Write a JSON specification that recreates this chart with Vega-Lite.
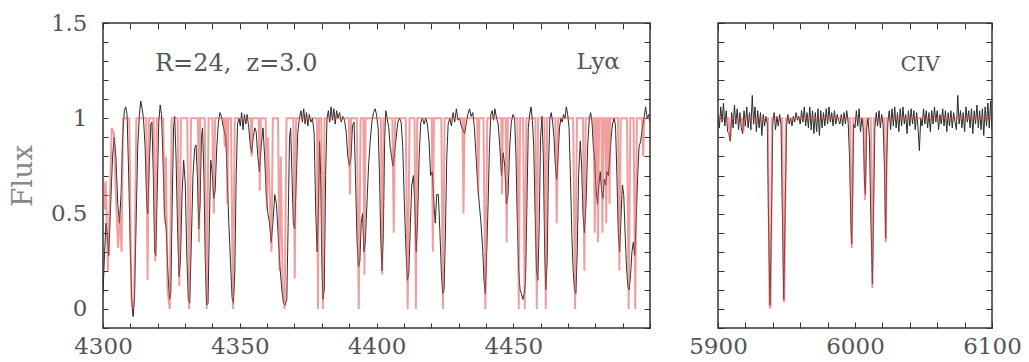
{
"$schema": "https://vega.github.io/schema/vega-lite/v6.json",
"autosize": {"type": "none"},
"padding": {"left": 103, "top": 23, "right": 926, "bottom": 339},
"bounds": "flush",
"spacing": 68,
"background": "white",
"config": {
  "view": {"stroke": "#333", "strokeWidth": 1.5},
  "axis": {"domain": false, "grid": false, "ticks": true, "tickColor": "#333", "tickWidth": 1, "tickSize": -5, "format": "d",
           "labelFont": "DejaVu Serif", "labelFontSize": 23, "labelColor": "#555", "labelOverlap": false, "labelFlush": false,
           "titleFont": "DejaVu Serif", "titleFontSize": 28, "titleColor": "#888", "titleFontWeight": "normal"}
},
"datasets": {
"lyaData": [
{"w":4300.0,"f":0.08},{"w":4300.6,"f":0.30},{"w":4301.1,"f":0.45},{"w":4301.6,"f":0.38},{"w":4302.1,"f":0.28},{"w":4302.8,"f":0.55},{"w":4303.5,"f":0.80},{"w":4304.1,"f":0.90},{"w":4304.7,"f":0.80},{"w":4305.4,"f":0.55},{"w":4306.0,"f":0.45},{"w":4306.6,"f":0.60},{"w":4307.2,"f":0.90},{"w":4307.8,"f":1.04},{"w":4308.3,"f":1.06},{"w":4308.8,"f":1.02},{"w":4309.4,"f":0.70},{"w":4310.0,"f":0.30},{"w":4310.6,"f":0.02},{"w":4311.0,"f":-0.04},{"w":4311.5,"f":0.05},{"w":4312.1,"f":0.45},{"w":4312.7,"f":0.85},{"w":4313.3,"f":1.02},{"w":4313.8,"f":1.09},{"w":4314.3,"f":1.05},{"w":4314.8,"f":1.00},{"w":4315.4,"f":0.85},{"w":4316.0,"f":0.55},{"w":4316.4,"f":0.50},{"w":4316.9,"f":0.75},{"w":4317.5,"f":0.97},{"w":4317.9,"f":0.98},{"w":4318.4,"f":0.70},{"w":4318.9,"f":0.30},{"w":4319.3,"f":0.28},{"w":4319.8,"f":0.60},{"w":4320.4,"f":0.98},{"w":4320.9,"f":1.07},{"w":4321.4,"f":1.02},{"w":4321.9,"f":0.80},{"w":4322.5,"f":0.50},{"w":4323.1,"f":0.42},{"w":4323.7,"f":0.20},{"w":4324.3,"f":0.05},{"w":4324.8,"f":0.08},{"w":4325.3,"f":0.55},{"w":4325.8,"f":0.95},{"w":4326.2,"f":1.01},{"w":4326.7,"f":0.80},{"w":4327.3,"f":0.40},{"w":4327.8,"f":0.17},{"w":4328.3,"f":0.25},{"w":4328.9,"f":0.60},{"w":4329.5,"f":0.78},{"w":4330.1,"f":0.65},{"w":4330.6,"f":0.30},{"w":4331.2,"f":0.05},{"w":4331.7,"f":0.03},{"w":4332.3,"f":0.35},{"w":4332.9,"f":0.70},{"w":4333.5,"f":0.84},{"w":4334.0,"f":0.86},{"w":4334.5,"f":0.70},{"w":4335.0,"f":0.42},{"w":4335.5,"f":0.55},{"w":4336.0,"f":0.90},{"w":4336.4,"f":0.95},{"w":4336.9,"f":0.70},{"w":4337.4,"f":0.25},{"w":4337.9,"f":0.02},{"w":4338.4,"f":0.03},{"w":4338.9,"f":0.45},{"w":4339.4,"f":0.78},{"w":4339.9,"f":0.72},{"w":4340.5,"f":0.58},{"w":4341.0,"f":0.62},{"w":4341.6,"f":0.85},{"w":4342.2,"f":0.98},{"w":4342.8,"f":1.03},{"w":4343.3,"f":1.01},{"w":4343.8,"f":0.97},{"w":4344.4,"f":0.93},{"w":4344.9,"f":0.90},{"w":4345.4,"f":0.70},{"w":4346.0,"f":0.45},{"w":4346.6,"f":0.25},{"w":4347.2,"f":0.06},{"w":4347.7,"f":0.03},{"w":4348.2,"f":0.20},{"w":4348.7,"f":0.70},{"w":4349.2,"f":0.97},{"w":4349.7,"f":1.00},{"w":4350.2,"f":0.96},{"w":4350.7,"f":1.03},{"w":4351.2,"f":0.94},{"w":4351.7,"f":1.02},{"w":4352.2,"f":0.97},{"w":4352.7,"f":1.02},{"w":4353.3,"f":0.95},{"w":4353.9,"f":0.85},{"w":4354.4,"f":0.82},{"w":4354.9,"f":0.90},{"w":4355.5,"f":0.95},{"w":4356.0,"f":0.93},{"w":4356.6,"f":0.80},{"w":4357.2,"f":0.72},{"w":4357.8,"f":0.85},{"w":4358.5,"f":0.95},{"w":4359.1,"f":0.80},{"w":4359.7,"f":0.60},{"w":4360.3,"f":0.50},{"w":4360.9,"f":0.45},{"w":4361.5,"f":0.35},{"w":4362.1,"f":0.45},{"w":4362.8,"f":0.60},{"w":4363.4,"f":0.55},{"w":4364.0,"f":0.40},{"w":4364.7,"f":0.22},{"w":4365.4,"f":0.10},{"w":4366.0,"f":0.03},{"w":4366.6,"f":0.02},{"w":4367.2,"f":0.05},{"w":4367.7,"f":0.45},{"w":4368.2,"f":0.90},{"w":4368.6,"f":0.95},{"w":4369.1,"f":0.70},{"w":4369.6,"f":0.45},{"w":4370.1,"f":0.42},{"w":4370.6,"f":0.65},{"w":4371.2,"f":0.92},{"w":4371.8,"f":1.00},{"w":4372.4,"f":1.04},{"w":4372.9,"f":0.98},{"w":4373.4,"f":1.05},{"w":4373.9,"f":0.97},{"w":4374.4,"f":1.03},{"w":4374.9,"f":0.96},{"w":4375.4,"f":1.02},{"w":4376.0,"f":0.98},{"w":4376.6,"f":1.00},{"w":4377.2,"f":0.92},{"w":4377.8,"f":0.50},{"w":4378.3,"f":0.30},{"w":4378.8,"f":0.55},{"w":4379.2,"f":0.88},{"w":4379.6,"f":0.70},{"w":4380.0,"f":0.25},{"w":4380.4,"f":0.05},{"w":4380.9,"f":0.10},{"w":4381.4,"f":0.70},{"w":4381.9,"f":1.00},{"w":4382.4,"f":1.04},{"w":4382.9,"f":0.98},{"w":4383.4,"f":1.06},{"w":4383.9,"f":0.99},{"w":4384.4,"f":1.05},{"w":4384.9,"f":0.97},{"w":4385.4,"f":1.04},{"w":4385.9,"f":1.00},{"w":4386.5,"f":1.03},{"w":4387.1,"f":0.98},{"w":4387.7,"f":1.01},{"w":4388.3,"f":0.99},{"w":4388.9,"f":0.93},{"w":4389.5,"f":0.80},{"w":4390.1,"f":0.75},{"w":4390.7,"f":0.80},{"w":4391.2,"f":0.96},{"w":4391.8,"f":0.98},{"w":4392.3,"f":0.70},{"w":4392.9,"f":0.35},{"w":4393.4,"f":0.22},{"w":4393.9,"f":0.25},{"w":4394.4,"f":0.45},{"w":4394.9,"f":0.50},{"w":4395.4,"f":0.30},{"w":4395.9,"f":0.35},{"w":4396.5,"f":0.55},{"w":4397.1,"f":0.75},{"w":4397.7,"f":0.88},{"w":4398.3,"f":0.98},{"w":4398.9,"f":1.03},{"w":4399.5,"f":1.05},{"w":4400.0,"f":1.02},{"w":4400.6,"f":0.95},{"w":4401.1,"f":0.70},{"w":4401.6,"f":0.35},{"w":4402.0,"f":0.20},{"w":4402.5,"f":0.40},{"w":4403.0,"f":0.90},{"w":4403.4,"f":1.04},{"w":4403.9,"f":1.00},{"w":4404.5,"f":0.95},{"w":4405.0,"f":0.85},{"w":4405.5,"f":0.80},{"w":4406.0,"f":0.75},{"w":4406.6,"f":0.82},{"w":4407.2,"f":0.90},{"w":4407.8,"f":0.98},{"w":4408.4,"f":1.00},{"w":4409.0,"f":0.98},{"w":4409.6,"f":0.85},{"w":4410.2,"f":0.55},{"w":4410.8,"f":0.30},{"w":4411.3,"f":0.15},{"w":4411.8,"f":0.18},{"w":4412.4,"f":0.45},{"w":4412.9,"f":0.65},{"w":4413.5,"f":0.70},{"w":4414.0,"f":0.55},{"w":4414.5,"f":0.30},{"w":4415.0,"f":0.45},{"w":4415.6,"f":0.80},{"w":4416.2,"f":0.98},{"w":4416.8,"f":1.00},{"w":4417.4,"f":0.97},{"w":4418.0,"f":1.00},{"w":4418.6,"f":0.97},{"w":4419.2,"f":0.88},{"w":4419.8,"f":0.70},{"w":4420.4,"f":0.72},{"w":4421.0,"f":0.55},{"w":4421.5,"f":0.45},{"w":4422.0,"f":0.60},{"w":4422.6,"f":0.60},{"w":4423.2,"f":0.40},{"w":4423.7,"f":0.20},{"w":4424.2,"f":0.08},{"w":4424.7,"f":0.10},{"w":4425.2,"f":0.40},{"w":4425.7,"f":0.80},{"w":4426.2,"f":0.97},{"w":4426.8,"f":1.00},{"w":4427.4,"f":0.96},{"w":4428.0,"f":1.03},{"w":4428.6,"f":0.98},{"w":4429.2,"f":1.05},{"w":4429.8,"f":0.99},{"w":4430.4,"f":1.00},{"w":4431.0,"f":0.96},{"w":4431.6,"f":0.94},{"w":4432.2,"f":0.92},{"w":4432.8,"f":0.97},{"w":4433.4,"f":1.02},{"w":4434.0,"f":1.05},{"w":4434.6,"f":1.01},{"w":4435.2,"f":1.03},{"w":4435.8,"f":0.95},{"w":4436.4,"f":0.80},{"w":4437.0,"f":0.65},{"w":4437.6,"f":0.55},{"w":4438.2,"f":0.45},{"w":4438.8,"f":0.32},{"w":4439.3,"f":0.15},{"w":4439.8,"f":0.08},{"w":4440.3,"f":0.30},{"w":4440.8,"f":0.55},{"w":4441.3,"f":0.85},{"w":4441.8,"f":1.02},{"w":4442.3,"f":1.04},{"w":4442.8,"f":0.99},{"w":4443.3,"f":1.05},{"w":4443.9,"f":1.00},{"w":4444.5,"f":0.97},{"w":4445.1,"f":0.85},{"w":4445.7,"f":0.70},{"w":4446.3,"f":0.82},{"w":4446.9,"f":0.75},{"w":4447.5,"f":0.55},{"w":4448.1,"f":0.60},{"w":4448.7,"f":0.85},{"w":4449.3,"f":0.98},{"w":4449.9,"f":1.02},{"w":4450.5,"f":1.00},{"w":4451.0,"f":0.80},{"w":4451.5,"f":0.45},{"w":4452.0,"f":0.20},{"w":4452.5,"f":0.10},{"w":4453.0,"f":0.08},{"w":4453.5,"f":0.05},{"w":4454.0,"f":0.08},{"w":4454.5,"f":0.15},{"w":4455.0,"f":0.55},{"w":4455.5,"f":0.95},{"w":4456.0,"f":1.02},{"w":4456.5,"f":1.06},{"w":4457.0,"f":0.99},{"w":4457.5,"f":0.85},{"w":4458.0,"f":0.50},{"w":4458.5,"f":0.20},{"w":4459.0,"f":0.15},{"w":4459.5,"f":0.45},{"w":4460.0,"f":0.90},{"w":4460.5,"f":1.01},{"w":4461.0,"f":0.80},{"w":4461.5,"f":0.30},{"w":4461.9,"f":0.10},{"w":4462.4,"f":0.25},{"w":4462.9,"f":0.75},{"w":4463.4,"f":1.00},{"w":4463.9,"f":1.03},{"w":4464.4,"f":0.98},{"w":4464.9,"f":0.90},{"w":4465.4,"f":0.75},{"w":4465.9,"f":0.68},{"w":4466.4,"f":0.80},{"w":4466.9,"f":0.95},{"w":4467.4,"f":1.00},{"w":4467.9,"f":0.98},{"w":4468.4,"f":1.02},{"w":4468.9,"f":1.00},{"w":4469.4,"f":1.06},{"w":4469.9,"f":1.02},{"w":4470.4,"f":0.95},{"w":4470.9,"f":0.70},{"w":4471.4,"f":0.40},{"w":4471.9,"f":0.20},{"w":4472.4,"f":0.10},{"w":4472.9,"f":0.08},{"w":4473.4,"f":0.30},{"w":4473.9,"f":0.70},{"w":4474.5,"f":0.88},{"w":4475.0,"f":0.75},{"w":4475.5,"f":0.50},{"w":4476.0,"f":0.40},{"w":4476.6,"f":0.55},{"w":4477.2,"f":0.85},{"w":4477.8,"f":1.00},{"w":4478.3,"f":1.03},{"w":4478.8,"f":0.98},{"w":4479.3,"f":0.85},{"w":4479.8,"f":0.78},{"w":4480.3,"f":0.62},{"w":4480.8,"f":0.55},{"w":4481.3,"f":0.65},{"w":4481.8,"f":0.72},{"w":4482.3,"f":0.62},{"w":4482.8,"f":0.58},{"w":4483.3,"f":0.68},{"w":4483.8,"f":0.65},{"w":4484.3,"f":0.72},{"w":4484.8,"f":0.70},{"w":4485.3,"f":0.80},{"w":4485.8,"f":0.90},{"w":4486.3,"f":0.97},{"w":4486.9,"f":1.00},{"w":4487.4,"f":0.96},{"w":4487.9,"f":0.70},{"w":4488.4,"f":0.40},{"w":4488.9,"f":0.30},{"w":4489.4,"f":0.48},{"w":4489.9,"f":0.65},{"w":4490.4,"f":0.60},{"w":4490.9,"f":0.40},{"w":4491.4,"f":0.22},{"w":4491.9,"f":0.12},{"w":4492.4,"f":0.10},{"w":4492.9,"f":0.18},{"w":4493.4,"f":0.30},{"w":4493.9,"f":0.35},{"w":4494.4,"f":0.28},{"w":4494.9,"f":0.45},{"w":4495.5,"f":0.70},{"w":4496.0,"f":0.85},{"w":4496.6,"f":0.88},{"w":4497.2,"f":0.95},{"w":4497.8,"f":1.00},{"w":4498.4,"f":1.06},{"w":4499.0,"f":1.00},{"w":4499.5,"f":1.02},{"w":4500.0,"f":0.98}
],
"lyaModel": [
{"w":4300.0,"f":0.70},{"w":4300.5,"f":0.52},{"w":4301.0,"f":0.67},{"w":4301.8,"f":0.20},{"w":4302.6,"f":0.62},{"w":4303.2,"f":0.95},{"w":4304.0,"f":0.92},{"w":4304.7,"f":0.60},{"w":4305.5,"f":0.32},{"w":4306.2,"f":0.50},{"w":4306.8,"f":0.30},{"w":4307.3,"f":1.00},{"w":4309.6,"f":1.00},{"w":4310.4,"f":0.05},{"w":4310.9,"f":0.00},{"w":4311.4,"f":0.05},{"w":4312.2,"f":1.00},{"w":4315.8,"f":1.00},{"w":4316.3,"f":0.15},{"w":4316.8,"f":1.00},{"w":4318.5,"f":1.00},{"w":4319.1,"f":0.25},{"w":4319.7,"f":1.00},{"w":4322.0,"f":1.00},{"w":4322.6,"f":0.45},{"w":4323.0,"f":0.80},{"w":4323.6,"f":0.10},{"w":4324.4,"f":0.00},{"w":4325.1,"f":1.00},{"w":4327.3,"f":1.00},{"w":4327.9,"f":0.12},{"w":4328.5,"f":1.00},{"w":4330.8,"f":1.00},{"w":4331.5,"f":0.00},{"w":4332.2,"f":1.00},{"w":4334.7,"f":1.00},{"w":4335.1,"f":0.35},{"w":4335.5,"f":1.00},{"w":4337.2,"f":1.00},{"w":4337.9,"f":0.00},{"w":4338.6,"f":1.00},{"w":4340.0,"f":1.00},{"w":4340.5,"f":0.50},{"w":4341.0,"f":1.00},{"w":4344.2,"f":1.00},{"w":4344.5,"f":0.85},{"w":4344.8,"f":1.00},{"w":4345.2,"f":1.00},{"w":4345.5,"f":0.55},{"w":4345.8,"f":1.00},{"w":4346.8,"f":1.00},{"w":4347.5,"f":0.00},{"w":4348.2,"f":1.00},{"w":4354.0,"f":1.00},{"w":4354.3,"f":0.80},{"w":4354.6,"f":1.00},{"w":4356.9,"f":1.00},{"w":4357.3,"f":0.62},{"w":4357.7,"f":1.00},{"w":4359.5,"f":1.00},{"w":4359.9,"f":0.52},{"w":4360.3,"f":0.90},{"w":4361.6,"f":0.30},{"w":4362.1,"f":1.00},{"w":4364.0,"f":1.00},{"w":4364.5,"f":0.20},{"w":4365.0,"f":0.80},{"w":4365.7,"f":0.10},{"w":4366.4,"f":0.00},{"w":4367.1,"f":1.00},{"w":4369.6,"f":1.00},{"w":4370.1,"f":0.16},{"w":4370.6,"f":1.00},{"w":4378.2,"f":1.00},{"w":4378.6,"f":0.00},{"w":4379.0,"f":1.00},{"w":4379.8,"f":1.00},{"w":4380.4,"f":0.00},{"w":4381.0,"f":1.00},{"w":4389.9,"f":1.00},{"w":4390.3,"f":0.60},{"w":4390.7,"f":1.00},{"w":4392.8,"f":1.00},{"w":4393.5,"f":0.00},{"w":4394.2,"f":1.00},{"w":4395.2,"f":1.00},{"w":4395.6,"f":0.18},{"w":4396.0,"f":1.00},{"w":4401.6,"f":1.00},{"w":4402.1,"f":0.18},{"w":4402.6,"f":1.00},{"w":4405.8,"f":1.00},{"w":4406.3,"f":0.40},{"w":4406.8,"f":1.00},{"w":4410.7,"f":1.00},{"w":4411.4,"f":0.00},{"w":4412.1,"f":1.00},{"w":4413.9,"f":1.00},{"w":4414.4,"f":0.00},{"w":4414.9,"f":1.00},{"w":4420.2,"f":1.00},{"w":4420.6,"f":0.30},{"w":4421.0,"f":1.00},{"w":4423.7,"f":1.00},{"w":4424.3,"f":0.00},{"w":4424.9,"f":1.00},{"w":4431.4,"f":1.00},{"w":4431.8,"f":0.50},{"w":4432.2,"f":1.00},{"w":4436.8,"f":1.00},{"w":4437.2,"f":0.60},{"w":4437.6,"f":1.00},{"w":4439.1,"f":1.00},{"w":4439.8,"f":0.00},{"w":4440.5,"f":1.00},{"w":4445.6,"f":1.00},{"w":4445.9,"f":0.60},{"w":4446.2,"f":1.00},{"w":4447.2,"f":1.00},{"w":4447.6,"f":0.35},{"w":4448.0,"f":1.00},{"w":4451.5,"f":1.00},{"w":4452.0,"f":0.00},{"w":4452.5,"f":1.00},{"w":4453.6,"f":1.00},{"w":4454.2,"f":0.00},{"w":4454.8,"f":1.00},{"w":4458.1,"f":1.00},{"w":4458.6,"f":0.00},{"w":4459.1,"f":1.00},{"w":4461.4,"f":1.00},{"w":4461.9,"f":0.00},{"w":4462.4,"f":1.00},{"w":4465.4,"f":1.00},{"w":4465.9,"f":0.45},{"w":4466.4,"f":1.00},{"w":4471.9,"f":1.00},{"w":4472.6,"f":0.00},{"w":4473.3,"f":1.00},{"w":4475.5,"f":1.00},{"w":4476.0,"f":0.20},{"w":4476.5,"f":1.00},{"w":4479.4,"f":1.00},{"w":4479.8,"f":0.40},{"w":4480.2,"f":1.00},{"w":4480.6,"f":1.00},{"w":4481.0,"f":0.35},{"w":4481.4,"f":1.00},{"w":4482.2,"f":1.00},{"w":4482.6,"f":0.40},{"w":4483.0,"f":1.00},{"w":4483.6,"f":1.00},{"w":4484.0,"f":0.45},{"w":4484.4,"f":1.00},{"w":4484.9,"f":1.00},{"w":4485.2,"f":0.55},{"w":4485.5,"f":1.00},{"w":4488.3,"f":1.00},{"w":4488.8,"f":0.20},{"w":4489.3,"f":1.00},{"w":4491.6,"f":1.00},{"w":4492.2,"f":0.00},{"w":4492.8,"f":1.00},{"w":4494.0,"f":1.00},{"w":4494.6,"f":0.00},{"w":4495.2,"f":1.00},{"w":4497.1,"f":1.00},{"w":4497.5,"f":0.80},{"w":4497.9,"f":1.00},{"w":4500.0,"f":1.00}
],
"civData": [
{"w":5900,"f":1.02},{"w":5901,"f":0.95},{"w":5902,"f":1.06},{"w":5903,"f":0.98},{"w":5904,"f":1.08},{"w":5905,"f":0.96},{"w":5906,"f":1.04},{"w":5907,"f":0.93},{"w":5908,"f":0.92},{"w":5909,"f":0.88},{"w":5910,"f":1.03},{"w":5911,"f":0.95},{"w":5912,"f":1.07},{"w":5913,"f":0.97},{"w":5914,"f":1.05},{"w":5915,"f":0.94},{"w":5916,"f":1.03},{"w":5917,"f":0.95},{"w":5918,"f":0.92},{"w":5919,"f":1.04},{"w":5920,"f":0.96},{"w":5921,"f":1.06},{"w":5922,"f":0.95},{"w":5923,"f":1.03},{"w":5924,"f":0.94},{"w":5925,"f":1.12},{"w":5926,"f":0.97},{"w":5927,"f":1.06},{"w":5928,"f":0.93},{"w":5929,"f":1.04},{"w":5930,"f":0.95},{"w":5931,"f":1.03},{"w":5932,"f":0.91},{"w":5933,"f":1.02},{"w":5934,"f":0.96},{"w":5935,"f":1.01},{"w":5936,"f":0.97},{"w":5937,"f":0.40},{"w":5938,"f":0.02},{"w":5939,"f":0.45},{"w":5940,"f":0.98},{"w":5941,"f":1.03},{"w":5942,"f":0.94},{"w":5943,"f":1.01},{"w":5944,"f":0.96},{"w":5945,"f":1.02},{"w":5946,"f":0.97},{"w":5947,"f":0.50},{"w":5948,"f":0.05},{"w":5949,"f":0.50},{"w":5950,"f":0.96},{"w":5951,"f":1.02},{"w":5952,"f":0.97},{"w":5953,"f":1.00},{"w":5954,"f":0.96},{"w":5955,"f":1.01},{"w":5956,"f":0.98},{"w":5957,"f":1.03},{"w":5958,"f":0.99},{"w":5959,"f":1.01},{"w":5960,"f":0.97},{"w":5961,"f":1.04},{"w":5962,"f":0.98},{"w":5963,"f":1.06},{"w":5964,"f":0.96},{"w":5965,"f":1.03},{"w":5966,"f":0.95},{"w":5967,"f":1.06},{"w":5968,"f":0.94},{"w":5969,"f":1.04},{"w":5970,"f":0.92},{"w":5971,"f":1.03},{"w":5972,"f":0.93},{"w":5973,"f":1.05},{"w":5974,"f":0.91},{"w":5975,"f":1.04},{"w":5976,"f":0.95},{"w":5977,"f":1.03},{"w":5978,"f":0.96},{"w":5979,"f":1.05},{"w":5980,"f":0.97},{"w":5981,"f":1.06},{"w":5982,"f":0.98},{"w":5983,"f":1.03},{"w":5984,"f":0.96},{"w":5985,"f":1.04},{"w":5986,"f":0.97},{"w":5987,"f":1.02},{"w":5988,"f":0.99},{"w":5989,"f":0.97},{"w":5990,"f":1.02},{"w":5991,"f":0.96},{"w":5992,"f":1.03},{"w":5993,"f":0.97},{"w":5994,"f":1.04},{"w":5995,"f":0.98},{"w":5996,"f":0.80},{"w":5997,"f":0.45},{"w":5997.6,"f":0.34},{"w":5998.3,"f":0.60},{"w":5999,"f":0.97},{"w":6000,"f":0.95},{"w":6001,"f":1.04},{"w":6002,"f":0.96},{"w":6003,"f":1.05},{"w":6004,"f":0.93},{"w":6005,"f":1.00},{"w":6006,"f":0.95},{"w":6007,"f":0.65},{"w":6007.6,"f":0.60},{"w":6008.5,"f":0.95},{"w":6009.5,"f":1.00},{"w":6010.5,"f":0.90},{"w":6011.5,"f":0.50},{"w":6012.7,"f":0.13},{"w":6013.6,"f":0.55},{"w":6014.5,"f":0.95},{"w":6015.5,"f":1.03},{"w":6016.5,"f":0.96},{"w":6017.5,"f":1.04},{"w":6018.5,"f":0.95},{"w":6019.5,"f":1.02},{"w":6020.5,"f":0.97},{"w":6021.5,"f":0.75},{"w":6022.4,"f":0.37},{"w":6023.2,"f":0.80},{"w":6024,"f":0.98},{"w":6025,"f":1.04},{"w":6026,"f":0.94},{"w":6027,"f":1.05},{"w":6028,"f":0.96},{"w":6029,"f":1.06},{"w":6030,"f":0.95},{"w":6031,"f":1.03},{"w":6032,"f":0.93},{"w":6033,"f":1.05},{"w":6034,"f":0.96},{"w":6035,"f":1.06},{"w":6036,"f":0.97},{"w":6037,"f":1.02},{"w":6038,"f":0.92},{"w":6039,"f":1.04},{"w":6040,"f":0.96},{"w":6041,"f":1.05},{"w":6042,"f":0.97},{"w":6043,"f":1.04},{"w":6044,"f":0.94},{"w":6045,"f":1.03},{"w":6046,"f":0.95},{"w":6047,"f":0.83},{"w":6048,"f":1.00},{"w":6049,"f":0.96},{"w":6050,"f":1.05},{"w":6051,"f":0.97},{"w":6052,"f":1.04},{"w":6053,"f":0.95},{"w":6054,"f":1.03},{"w":6055,"f":0.93},{"w":6056,"f":1.04},{"w":6057,"f":0.97},{"w":6058,"f":1.06},{"w":6059,"f":0.98},{"w":6060,"f":1.04},{"w":6061,"f":0.94},{"w":6062,"f":1.02},{"w":6063,"f":0.97},{"w":6064,"f":1.05},{"w":6065,"f":0.96},{"w":6066,"f":1.04},{"w":6067,"f":0.93},{"w":6068,"f":1.03},{"w":6069,"f":0.96},{"w":6070,"f":1.04},{"w":6071,"f":0.95},{"w":6072,"f":1.03},{"w":6073,"f":0.98},{"w":6074,"f":0.94},{"w":6075,"f":1.12},{"w":6076,"f":0.97},{"w":6077,"f":1.04},{"w":6078,"f":0.95},{"w":6079,"f":1.03},{"w":6080,"f":0.93},{"w":6081,"f":1.06},{"w":6082,"f":0.98},{"w":6083,"f":1.04},{"w":6084,"f":0.95},{"w":6085,"f":1.05},{"w":6086,"f":0.92},{"w":6087,"f":1.04},{"w":6088,"f":0.97},{"w":6089,"f":1.07},{"w":6090,"f":0.95},{"w":6091,"f":1.04},{"w":6092,"f":0.94},{"w":6093,"f":1.05},{"w":6094,"f":0.91},{"w":6095,"f":1.06},{"w":6096,"f":0.96},{"w":6097,"f":1.08},{"w":6098,"f":0.95},{"w":6099,"f":1.09},{"w":6100,"f":0.94}
],
"civModel": [
{"w":5900,"f":1.0},{"w":5907.6,"f":1.0},{"w":5908.8,"f":0.88},{"w":5910,"f":1.0},{"w":5917.5,"f":1.0},{"w":5918.5,"f":0.93},{"w":5919.5,"f":1.0},{"w":5936.5,"f":1.0},{"w":5937.6,"f":0.02},{"w":5938.0,"f":0.0},{"w":5938.4,"f":0.02},{"w":5939.5,"f":1.0},{"w":5946.8,"f":1.0},{"w":5948.0,"f":0.04},{"w":5948.4,"f":0.04},{"w":5949.6,"f":1.0},{"w":5996.4,"f":1.0},{"w":5997.6,"f":0.32},{"w":5998.8,"f":1.0},{"w":6006.3,"f":1.0},{"w":6007.3,"f":0.57},{"w":6008.3,"f":1.0},{"w":6011.5,"f":1.0},{"w":6012.7,"f":0.11},{"w":6013.9,"f":1.0},{"w":6021.4,"f":1.0},{"w":6022.4,"f":0.35},{"w":6023.4,"f":1.0},{"w":6100,"f":1.0}
]
},
"hconcat": [
{
  "width": 547, "height": 305,
  "resolve": {"axis": {"x": "independent", "y": "independent"}},
  "layer": [
    {
      "data": {"name": "lyaData"},
      "mark": {"type": "line", "color": "#2a2a2a", "strokeWidth": 1, "clip": true},
      "encoding": {
        "x": {"field": "w", "type": "quantitative", "scale": {"domain": [4300, 4500], "nice": false, "zero": false},
              "axis": {"orient": "bottom", "title": null, "values": [4300,4310,4320,4330,4340,4350,4360,4370,4380,4390,4400,4410,4420,4430,4440,4450,4460,4470,4480,4490,4500],
                       "labelExpr": "datum.value % 50 === 0 && datum.value < 4500 ? datum.label : ''", "labelPadding": 12,
                       "encode": {"ticks": {"update": {"y2": {"signal": "datum.value % 50 === 0 ? -10 : -5"}}}}}},
        "y": {"field": "f", "type": "quantitative", "scale": {"domain": [-0.1, 1.5], "nice": false, "zero": false},
              "axis": {"orient": "left", "title": "Flux", "titlePadding": 13, "values": [-0.1,0,0.1,0.2,0.3,0.4,0.5,0.6,0.7,0.8,0.9,1,1.1,1.2,1.3,1.4,1.5],
                       "labelExpr": "(datum.value === 0 || datum.value === 0.5 || datum.value === 1 || datum.value === 1.5) ? '' + datum.value : ''", "labelPadding": 21,
                       "encode": {"ticks": {"update": {"x2": {"signal": "datum.value % 0.5 === 0 ? 11 : 6"}}}}}}
      }
    },
    {
      "data": {"name": "lyaModel"},
      "mark": {"type": "line", "color": "#e0504e", "strokeWidth": 2, "opacity": 0.55, "clip": true},
      "encoding": {
        "x": {"field": "w", "type": "quantitative",
              "axis": {"orient": "top", "title": null, "labels": false, "tickSize": -6, "values": [4300,4310,4320,4330,4340,4350,4360,4370,4380,4390,4400,4410,4420,4430,4440,4450,4460,4470,4480,4490,4500]}},
        "y": {"field": "f", "type": "quantitative",
              "axis": {"orient": "right", "title": null, "labels": false, "tickSize": -6, "values": [-0.1,0,0.1,0.2,0.3,0.4,0.5,0.6,0.7,0.8,0.9,1,1.1,1.2,1.3,1.4,1.5]}}
      }
    },
    {
      "data": {"values": [{}]},
      "mark": {"type": "text", "text": "R=24,\u00a0 z=3.0", "align": "left", "baseline": "alphabetic", "font": "DejaVu Serif", "fontSize": 24, "color": "#555"},
      "encoding": {"x": {"datum": 4319, "type": "quantitative", "axis": null}, "y": {"datum": 1.25, "type": "quantitative", "axis": null}}
    },
    {
      "data": {"values": [{}]},
      "mark": {"type": "text", "text": "Ly\u03b1", "align": "right", "baseline": "alphabetic", "font": "DejaVu Serif", "fontSize": 23, "color": "#555"},
      "encoding": {"x": {"datum": 4489, "type": "quantitative", "axis": null}, "y": {"datum": 1.26, "type": "quantitative", "axis": null}}
    }
  ]
},
{
  "width": 274, "height": 305,
  "resolve": {"axis": {"x": "independent", "y": "independent"}},
  "layer": [
    {
      "data": {"name": "civData"},
      "mark": {"type": "line", "color": "#2a2a2a", "strokeWidth": 1, "clip": true},
      "encoding": {
        "x": {"field": "w", "type": "quantitative", "scale": {"domain": [5900, 6100], "nice": false, "zero": false},
              "axis": {"orient": "bottom", "title": null, "tickSize": -6, "values": [5900,5920,5940,5960,5980,6000,6020,6040,6060,6080,6100],
                       "labelExpr": "datum.value % 100 === 0 ? datum.label : ''", "labelPadding": 13}},
        "y": {"field": "f", "type": "quantitative", "scale": {"domain": [-0.1, 1.5], "nice": false, "zero": false},
              "axis": {"orient": "left", "title": null, "labels": false, "tickSize": -6, "values": [-0.1,0,0.1,0.2,0.3,0.4,0.5,0.6,0.7,0.8,0.9,1,1.1,1.2,1.3,1.4,1.5]}}
      }
    },
    {
      "data": {"name": "civModel"},
      "mark": {"type": "line", "color": "#e0504e", "strokeWidth": 2, "opacity": 0.55, "clip": true},
      "encoding": {
        "x": {"field": "w", "type": "quantitative",
              "axis": {"orient": "top", "title": null, "labels": false, "tickSize": -6, "values": [5900,5920,5940,5960,5980,6000,6020,6040,6060,6080,6100]}},
        "y": {"field": "f", "type": "quantitative",
              "axis": {"orient": "right", "title": null, "labels": false, "tickSize": -6, "values": [-0.1,0,0.1,0.2,0.3,0.4,0.5,0.6,0.7,0.8,0.9,1,1.1,1.2,1.3,1.4,1.5]}}
      }
    },
    {
      "data": {"values": [{}]},
      "mark": {"type": "text", "text": "CIV", "align": "right", "baseline": "alphabetic", "font": "DejaVu Serif", "fontSize": 21, "color": "#555"},
      "encoding": {"x": {"datum": 6062, "type": "quantitative", "axis": null}, "y": {"datum": 1.25, "type": "quantitative", "axis": null}}
    }
  ]
}
]
}
